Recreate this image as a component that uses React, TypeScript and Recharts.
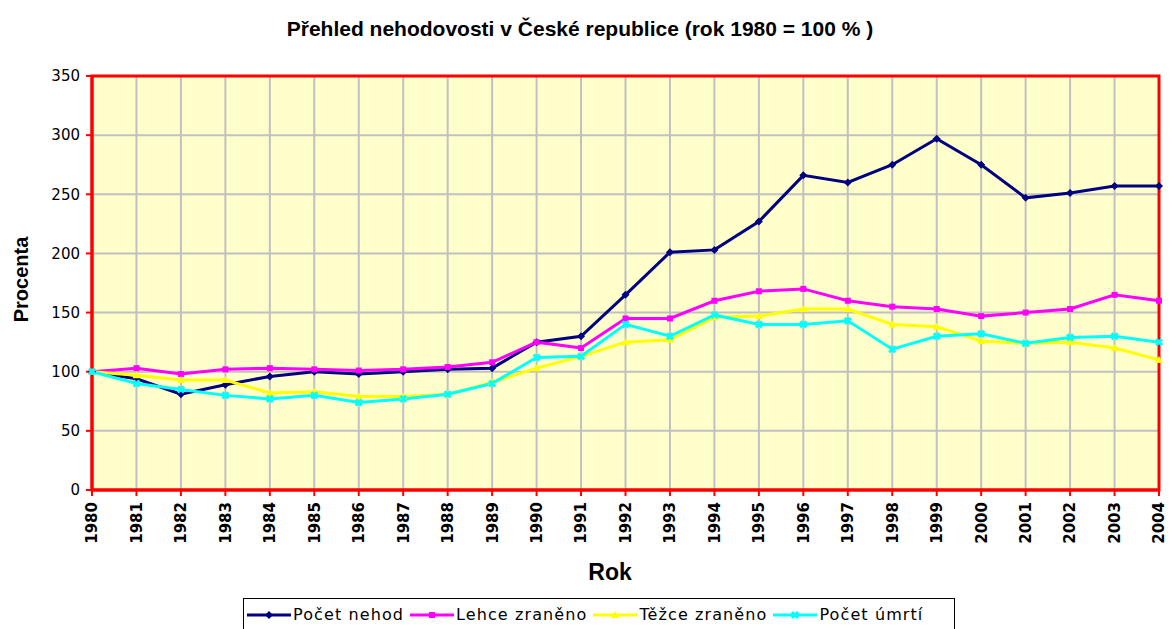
import {
  CartesianGrid,
  Line,
  LineChart,
  ReferenceArea,
  XAxis,
  YAxis,
} from "recharts";

// Rok 1980 = 100 %
const years = [
  "1980", "1981", "1982", "1983", "1984", "1985", "1986", "1987", "1988",
  "1989", "1990", "1991", "1992", "1993", "1994", "1995", "1996", "1997",
  "1998", "1999", "2000", "2001", "2002", "2003", "2004",
];
const pocetNehod = [
  100, 94, 81, 89, 96, 100, 98, 100, 102, 103, 125, 130, 165, 201, 203, 227,
  266, 260, 275, 297, 275, 247, 251, 257, 257,
];
const lehceZraneno = [
  100, 103, 98, 102, 103, 102, 101, 102, 104, 108, 125, 120, 145, 145, 160,
  168, 170, 160, 155, 153, 147, 150, 153, 165, 160,
];
const tezceZraneno = [
  100, 97, 93, 93, 82, 83, 79, 79, 81, 91, 103, 113, 125, 127, 146, 147, 153,
  153, 140, 138, 126, 124, 125, 120, 110,
];
const pocetUmrti = [
  100, 90, 85, 80, 77, 80, 74, 77, 81, 90, 112, 113, 140, 130, 148, 140, 140,
  143, 119, 130, 132, 124, 129, 130, 125,
];
const yTicks = [0, 50, 100, 150, 200, 250, 300, 350];

const data = years.map((year, i) => ({
  year,
  nehody: pocetNehod[i],
  lehce: lehceZraneno[i],
  tezce: tezceZraneno[i],
  umrti: pocetUmrti[i],
}));

const series = [
  { key: "nehody", name: "Počet nehod", color: "#000080", shape: "diamond" },
  { key: "lehce", name: "Lehce zraněno", color: "#ff00ff", shape: "square" },
  { key: "tezce", name: "Těžce zraněno", color: "#ffff00", shape: "triangle" },
  { key: "umrti", name: "Počet úmrtí", color: "#00ffff", shape: "cross" },
];

function marker(shape: string, color: string) {
  return (props: any) => {
    const { cx, cy, index } = props;
    if (cx == null || cy == null) return <g key={index} />;
    if (shape === "diamond")
      return (
        <path key={index} d={`M${cx},${cy - 4}L${cx + 4},${cy}L${cx},${cy + 4}L${cx - 4},${cy}Z`} fill={color} />
      );
    if (shape === "square")
      return <rect key={index} x={cx - 3} y={cy - 3} width={6} height={6} fill={color} />;
    if (shape === "triangle")
      return (
        <path key={index} d={`M${cx},${cy - 4}L${cx + 4},${cy + 3}L${cx - 4},${cy + 3}Z`} fill={color} />
      );
    return (
      <path key={index} d={`M${cx - 3},${cy - 3}L${cx + 3},${cy + 3}M${cx + 3},${cy - 3}L${cx - 3},${cy + 3}`} stroke={color} strokeWidth={3} />
    );
  };
}

const XTick = ({ x, y, payload }: any) => (
  <text
    x={x}
    y={y + 2}
    dy="0.36em"
    transform={`rotate(-90, ${x}, ${y + 2})`}
    textAnchor="end"
    fontFamily="DejaVu Sans"
    fontWeight="bold"
    fontSize={15}
    fill="#000"
  >
    {payload.value}
  </text>
);

export default function App() {
  return (
    <div style={{ position: "absolute", left: 0, top: 0, width: 1174, height: 629, background: "#fff", overflow: "hidden" }}>
      <div
        style={{
          position: "absolute",
          top: 17,
          left: 0,
          width: 1160,
          textAlign: "center",
          fontFamily: "'Liberation Sans Narrow', 'Arial Narrow', 'Liberation Sans'",
          fontWeight: "bold",
          fontSize: 21,
        }}
      >
        Přehled nehodovosti v České republice (rok 1980 = 100 % )
      </div>
      <LineChart width={1174} height={629} data={data} margin={{ top: 76, right: 15, bottom: 0, left: 0 }}>
        <CartesianGrid stroke="#c0c0c0" strokeWidth={2} fill="#ffffcc" />
        <XAxis
          dataKey="year"
          height={139}
          interval={0}
          axisLine={{ stroke: "#ff0000", strokeWidth: 3 }}
          tickLine={{ stroke: "#ff0000", strokeWidth: 2 }}
          tickSize={6}
          tickMargin={4}
          tick={<XTick />}
        />
        <YAxis
          width={92}
          domain={[0, 350]}
          ticks={yTicks}
          interval={0}
          axisLine={{ stroke: "#ff0000", strokeWidth: 3 }}
          tickLine={{ stroke: "#ff0000", strokeWidth: 2 }}
          tickSize={6}
          tickMargin={6}
          tick={{ fill: "#000", fontSize: 15, fontFamily: "DejaVu Sans" }}
        />
        <ReferenceArea x1="1980" x2="2004" y1={0} y2={350} fill="none" stroke="#ff0000" strokeWidth={3} ifOverflow="visible" />
        {series.map((s) => (
          <Line
            key={s.key}
            type="linear"
            dataKey={s.key}
            name={s.name}
            stroke={s.color}
            strokeWidth={3}
            dot={marker(s.shape, s.color)}
            activeDot={false}
            isAnimationActive={false}
          />
        ))}
      </LineChart>
      <div
        style={{
          position: "absolute",
          left: 0,
          top: 257,
          width: 44,
          height: 44,
          display: "flex",
          alignItems: "center",
          justifyContent: "center",
        }}
      >
        <div
          style={{
            transform: "rotate(-90deg)",
            fontFamily: "'Liberation Sans', Arial",
            fontWeight: "bold",
            fontSize: 20,
            whiteSpace: "nowrap",
          }}
        >
          Procenta
        </div>
      </div>
      <div
        style={{
          position: "absolute",
          left: 560,
          top: 559,
          width: 100,
          textAlign: "center",
          fontFamily: "'Liberation Sans', Arial",
          fontWeight: "bold",
          fontSize: 23,
        }}
      >
        Rok
      </div>
      <div
        style={{
          position: "absolute",
          left: 243,
          top: 598,
          width: 712,
          height: 40,
          border: "1px solid #000",
          background: "#fff",
          boxSizing: "border-box",
          display: "flex",
          alignItems: "flex-start",
          paddingTop: 6,
          paddingLeft: 3,
          fontFamily: "'DejaVu Sans'",
          fontSize: 16,
          letterSpacing: 1.1,
        }}
      >
        {series.map((s) => (
          <div key={s.key} style={{ display: "flex", alignItems: "center", marginRight: 6 }}>
            <svg width={44} height={12} style={{ marginRight: 2 }}>
              <line x1={0} y1={6} x2={44} y2={6} stroke={s.color} strokeWidth={3} />
              {marker(s.shape, s.color)({ cx: 22, cy: 6, index: 0 })}
            </svg>
            <span>{s.name}</span>
          </div>
        ))}
      </div>
    </div>
  );
}
